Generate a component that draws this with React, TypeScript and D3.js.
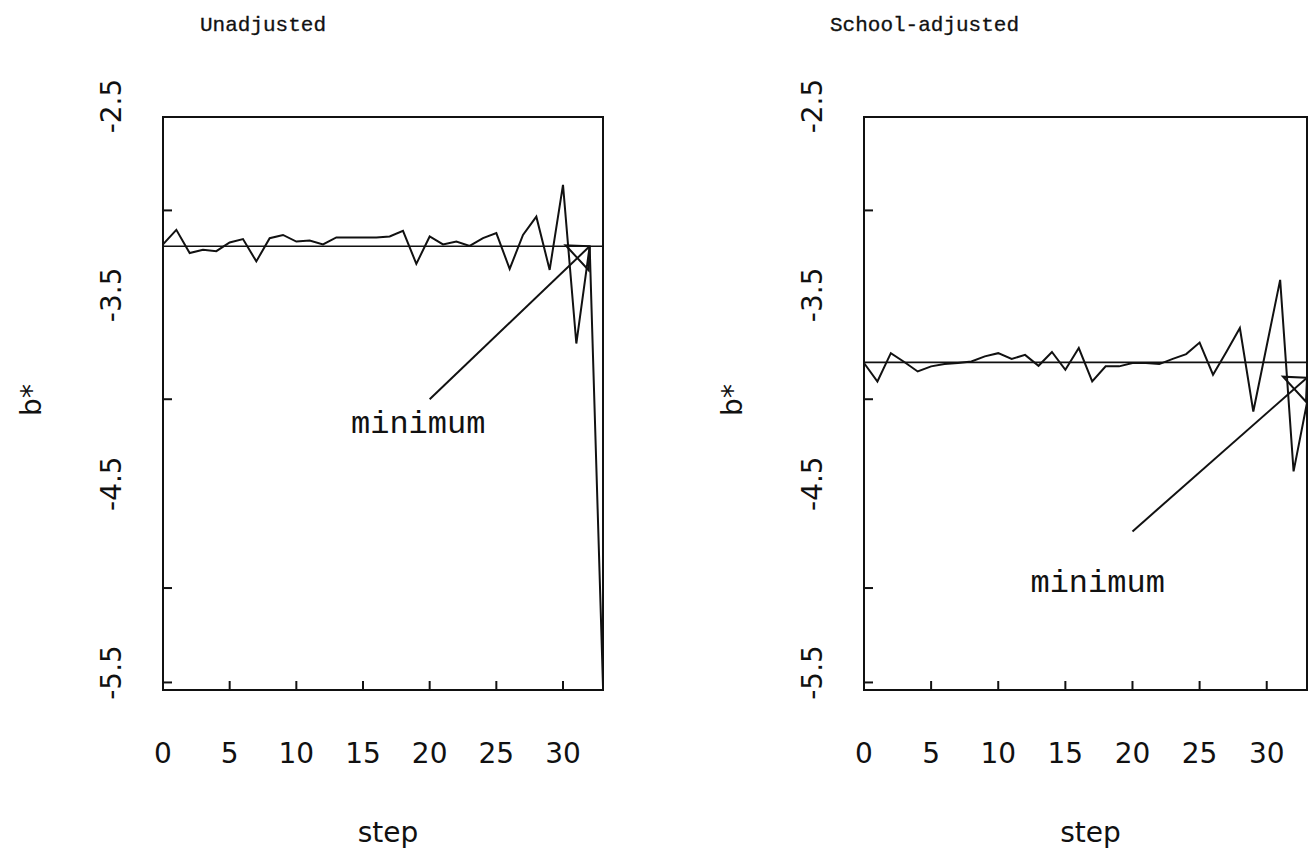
import React from "react";
import * as d3 from "d3";

const steps = d3.range(0, 34);
const unadjusted = [
  -3.18, -3.103, -3.226, -3.209, -3.216, -3.17, -3.152, -3.27, -3.147, -3.13,
  -3.165, -3.16, -3.18, -3.143, -3.143, -3.143, -3.143, -3.138, -3.108, -3.283,
  -3.138, -3.18, -3.165, -3.188, -3.147, -3.12, -3.31, -3.13, -3.033, -3.315,
  -2.865, -3.705, -3.19, -5.52,
];
const schoolAdjusted = [
  -3.808, -3.906, -3.756, -3.803, -3.853, -3.826, -3.814, -3.808, -3.8, -3.773,
  -3.756, -3.787, -3.765, -3.823, -3.75, -3.844, -3.729, -3.906, -3.826, -3.826,
  -3.808, -3.808, -3.814, -3.786, -3.761, -3.7, -3.87, -3.749, -3.623, -4.065,
  -3.717, -3.368, -4.382, -4.019,
];
const minLevels = [-3.19, -3.805];
const arrowFrom = [
  [20, -4.0],
  [20, -4.7],
];
const arrowTo = [
  [32, -3.19],
  [33, -3.886],
];
const labelAt = [
  [14.1, -4.18],
  [12.4, -5.02],
];
const titles = ["Unadjusted", "School-adjusted"];
const xTickLabels = [0, 5, 10, 15, 20, 25, 30];
const yTickLabels = ["-2.5", "-3.5", "-4.5", "-5.5"];
const yTickMarks = [-3, -4, -5, -5.5];

const panels = [
  { left: 163, right: 603, title: titles[0], titleX: 200, series: unadjusted },
  { left: 864, right: 1307, title: titles[1], titleX: 830, series: schoolAdjusted },
];

const top = 117;
const bottom = 690;
const mono = "'Liberation Mono', 'DejaVu Sans Mono', monospace";
const sans = "'DejaVu Sans', sans-serif";
const ink = "#111";

function Panel({ p, i }: { p: any; i: number }) {
  const x = d3.scaleLinear().domain([0, 33]).range([p.left, p.right]);
  const y = d3.scaleLinear().domain([-5.54, -2.5]).range([bottom, 116]);
  const line = d3
    .line<number>()
    .x((_, k) => x(steps[k]))
    .y((d) => y(d));
  const from = arrowFrom[i];
  const to = arrowTo[i];
  const tx = x(to[0]);
  const ty = y(to[1]);
  const head = `M${tx},${ty}L${tx - 24},${ty - 1}L${tx - 1},${ty + 24}Z`;
  return (
    <g>
      <text x={p.titleX} y={31} fontFamily={mono} fontSize={21} fill={ink} stroke={ink} strokeWidth={0.3}>
        {p.title}
      </text>
      <rect
        x={p.left}
        y={top}
        width={p.right - p.left}
        height={bottom - top}
        fill="none"
        stroke={ink}
        strokeWidth={2}
      />
      {xTickLabels.slice(1).map((t) => (
        <line key={"xt" + t} x1={x(t)} x2={x(t)} y1={bottom} y2={bottom - 9} stroke={ink} strokeWidth={2} />
      ))}
      {yTickMarks.map((t) => (
        <line key={"yt" + t} x1={p.left} x2={p.left + 9} y1={y(t)} y2={y(t)} stroke={ink} strokeWidth={2} />
      ))}
      {xTickLabels.map((t) => (
        <text
          key={"xl" + t}
          x={x(t)}
          y={763}
          textAnchor="middle"
          fontFamily={sans}
          fontSize={28}
          fill={ink}
        >
          {t}
        </text>
      ))}
      {yTickLabels.map((t) => (
        <text
          key={"yl" + t}
          transform={`translate(${p.left - 42},${y(+t) - 10}) rotate(-90)`}
          textAnchor="middle"
          fontFamily={sans}
          fontSize={28}
          fill={ink}
        >
          {t}
        </text>
      ))}
      <text
        transform={`translate(${p.left - 122},${400}) rotate(-90)`}
        textAnchor="middle"
        fontFamily={sans}
        fontSize={28}
        fill={ink}
      >
        b*
      </text>
      <text x={(p.left + p.right) / 2 + 5} y={842} textAnchor="middle" fontFamily={sans} fontSize={28} fill={ink}>
        step
      </text>
      <line
        x1={p.left}
        x2={p.right}
        y1={y(minLevels[i])}
        y2={y(minLevels[i])}
        stroke={ink}
        strokeWidth={1.6}
      />
      <path d={line(p.series) || ""} fill="none" stroke={ink} strokeWidth={2} strokeLinejoin="miter" />
      <line x1={x(from[0])} y1={y(from[1])} x2={tx} y2={ty} stroke={ink} strokeWidth={2} />
      <path d={head} fill="none" stroke={ink} strokeWidth={2} />
      <text
        x={x(labelAt[i][0])}
        y={y(labelAt[i][1])}
        fontFamily={mono}
        fontSize={32}
        fill={ink}
      >
        minimum
      </text>
    </g>
  );
}

export default function App() {
  return (
    <svg
      width={1316}
      height={854}
      style={{ position: "absolute", left: 0, top: 0, background: "#fff" }}
    >
      <rect width={1316} height={854} fill="#fff" />
      {panels.map((p, i) => (
        <Panel key={i} p={p} i={i} />
      ))}
    </svg>
  );
}
